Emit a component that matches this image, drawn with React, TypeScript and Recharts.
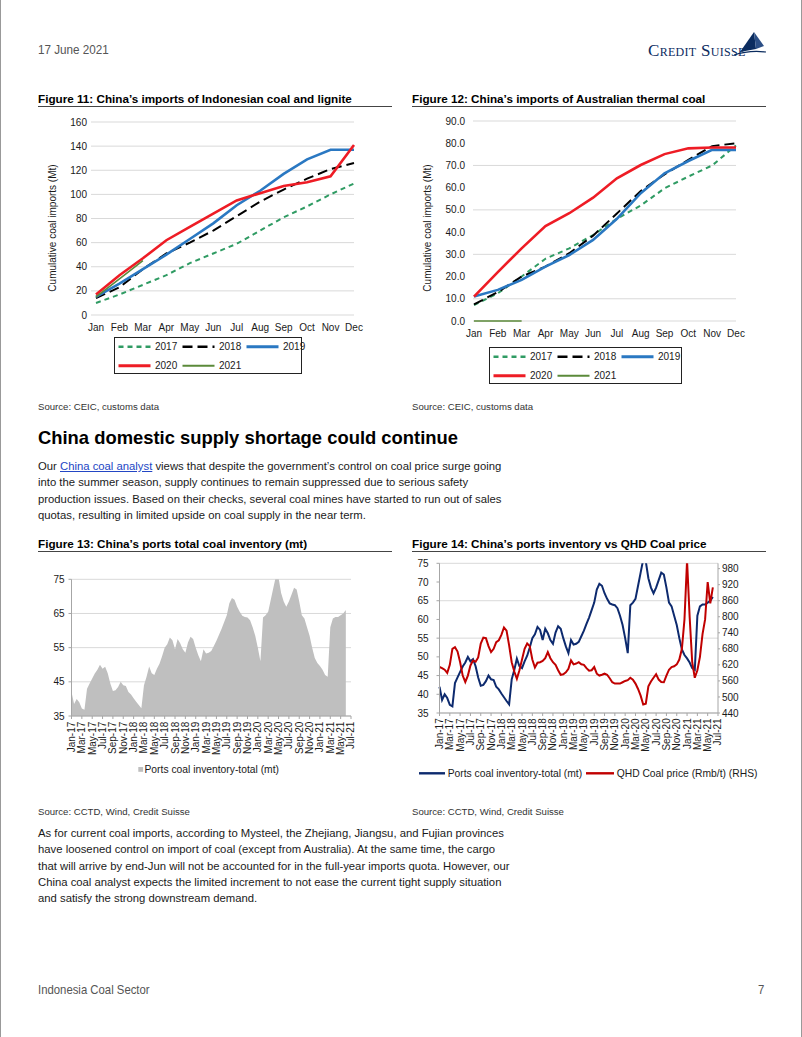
import React from "react";
import {
  LineChart,
  Line,
  AreaChart,
  Area,
  XAxis,
  YAxis,
  CartesianGrid,
} from "recharts";

const FONT = '"Liberation Sans", Arial, Helvetica, sans-serif';

// Figure 11 / 12 - cumulative imports (Mt) by month
const months = ["Jan", "Feb", "Mar", "Apr", "May", "Jun", "Jul", "Aug", "Sep", "Oct", "Nov", "Dec"];

const indo2017 = [10, 17, 25, 33, 43, 51, 59, 70, 81, 90, 100, 109];
const indo2018 = [14, 23, 38, 51, 60, 70, 82, 94, 104, 113, 121, 126];
const indo2019 = [15, 26, 38, 50, 63, 76, 91, 103, 117, 129, 137, 137];
const indo2020 = [17, 33, 47, 62, 73, 84, 95, 101, 107, 110, 115, 141];
const indo2021 = [15, 30, 45];
const indoTicks = [0, 20, 40, 60, 80, 100, 120, 140, 160];

const aus2017 = [7.2, 12.5, 20, 28, 32.7, 38.7, 46, 52, 59.7, 65, 70, 79];
const aus2018 = [7.5, 13, 20, 24.5, 30.5, 38.4, 48.4, 58.5, 66, 72.5, 78.7, 80];
const aus2019 = [11, 14, 18.5, 24.5, 29.7, 36.5, 46, 57.5, 66.5, 72, 77, 77];
const aus2020 = [11, 22, 32.7, 42.7, 48.5, 55.5, 64.2, 70.2, 75.1, 77.7, 78.1, 78.1];
const aus2021 = [0, 0, 0];
const ausTicks = [0, 10, 20, 30, 40, 50, 60, 70, 80, 90];

// Figure 13 / 14 - half-monthly readings from Jan-17 to Jun-21
const dateTicks = [
  "Jan-17", "Mar-17", "May-17", "Jul-17", "Sep-17", "Nov-17",
  "Jan-18", "Mar-18", "May-18", "Jul-18", "Sep-18", "Nov-18",
  "Jan-19", "Mar-19", "May-19", "Jul-19", "Sep-19", "Nov-19",
  "Jan-20", "Mar-20", "May-20", "Jul-20", "Sep-20", "Nov-20",
  "Jan-21", "Mar-21", "May-21", "Jul-21",
];

const portInventory = [
  42, 38.5, 40, 39, 37.2, 36.8, 43, 44.5, 46, 47.4, 48.5, 50,
  48.8, 49.4, 47.5, 44.5, 42.3, 42.5, 43.5, 45, 44, 43.8, 42, 41.3,
  40.2, 39.2, 38.2, 37.3, 44, 46.5, 49.5, 47.5, 47, 48.8, 50.3, 52.5,
  55, 56, 58, 57.2, 54.5, 57.5, 56.3, 54.5, 53.5, 56.5, 58.2, 57.5,
  55, 52.8, 51, 54.5, 53.3, 53.5, 54, 55.5, 57, 58.8, 60.5, 62.5,
  64.5, 68, 69.5, 69, 67, 65.5, 64.3, 64, 63.8, 63, 61, 58.5,
  55, 51, 63.8, 64.5, 65.5, 69, 72.5, 76, 75.5, 71, 68.5, 67,
  68.5, 70.5, 72.5, 72, 68.5, 64.5, 63.5, 61, 58.5, 55, 52, 50.5,
  49.6, 48.5, 47, 46.5, 61, 63.5, 64, 64, 64.5, 65, 66,
];

const qhdPrice = [
  612, 608, 602, 590, 620, 680, 686, 670, 630, 580, 556, 580,
  618, 636, 632, 648, 700, 722, 720, 690, 668, 680, 705, 712,
  732, 760, 748, 693, 630, 595, 568, 600, 640, 680, 700, 690,
  640, 610, 628, 630, 635, 645, 668, 645, 630, 620, 600, 583,
  585, 592, 605, 637, 622, 625, 630, 622, 620, 608, 598, 600,
  612, 587, 580, 583, 587, 583, 570, 555, 550, 550, 550, 555,
  560, 563, 572, 565, 550, 530, 505, 472, 475, 540, 558, 572,
  585, 565, 556, 555, 580, 602, 612, 615, 622, 640, 680, 790,
  1010, 800, 630, 572, 600, 650, 735, 790, 930, 850, 910,
];

const invTicks13 = [35, 45, 55, 65, 75];
const invTicks14 = [35, 40, 45, 50, 55, 60, 65, 70, 75];
const priceTicks = [440, 500, 560, 620, 680, 740, 800, 860, 920, 980];

const yearSeries = [
  { key: "y2017", label: "2017", color: "#2f9b63", width: 2, dash: "5 4" },
  { key: "y2018", label: "2018", color: "#000000", width: 2, dash: "10 5" },
  { key: "y2019", label: "2019", color: "#2a78c2", width: 2.6, dash: undefined },
  { key: "y2020", label: "2020", color: "#ee1c25", width: 2.6, dash: undefined },
  { key: "y2021", label: "2021", color: "#5b8a3a", width: 1.6, dash: undefined },
];

const INV_COLOR = "#0d2a6e";
const PRICE_COLOR = "#c00000";
const AREA_GREY = "#bfbfbf";

const indoData = months.map((m, i) => ({
  month: m,
  y2017: indo2017[i],
  y2018: indo2018[i],
  y2019: indo2019[i],
  y2020: indo2020[i],
  y2021: indo2021[i],
}));

const ausData = months.map((m, i) => ({
  month: m,
  y2017: aus2017[i],
  y2018: aus2018[i],
  y2019: aus2019[i],
  y2020: aus2020[i],
  y2021: aus2021[i],
}));

const inventoryData = portInventory.map((v, i) => ({
  t: i / 2,
  inv: v,
  price: qhdPrice[i],
}));

const xTickValues = dateTicks.map((_, i) => i * 2);

const tickStyle = { fontSize: 10, fill: "#1a1a1a", fontFamily: FONT };

const RotatedTick = (props: any) => {
  const { x, y, payload } = props;
  const label = dateTicks[Math.round(payload.value / 2)];
  return (
    <text
      x={x}
      y={y}
      transform={`rotate(-90 ${x} ${y})`}
      textAnchor="end"
      dy="0.35em"
      fontSize={10}
      fontFamily={FONT}
      fill="#1a1a1a"
    >
      {label}
    </text>
  );
};

const BoxLegend = ({ left, top, width }: { left: number; top: number; width: number }) => {
  const rows = [yearSeries.slice(0, 3), yearSeries.slice(3)];
  return (
    <svg
      style={{ position: "absolute", left, top, overflow: "visible" }}
      width={width}
      height={37}
    >
      <rect x={0.5} y={0.5} width={width - 1} height={36} fill="none" stroke="#222" />
      {rows.map((row, r) =>
        row.map((s, c) => {
          const cy = r === 0 ? 9.7 : 28.8;
          const x0 = 4.5 + c * 64;
          return (
            <g key={s.key}>
              <line
                x1={x0}
                x2={x0 + 32}
                y1={cy}
                y2={cy}
                stroke={s.color}
                strokeWidth={s.width + 0.4}
                strokeDasharray={s.dash}
              />
              <text x={x0 + 36.5} y={cy + 3.6} fontSize={10} fontFamily={FONT} fill="#1a1a1a">
                {s.label}
              </text>
            </g>
          );
        })
      )}
    </svg>
  );
};

const FigTitle = ({ left, top, text }: { left: number; top: number; text: string }) => (
  <>
    <div
      style={{
        position: "absolute",
        left,
        top,
        fontFamily: FONT,
        fontWeight: "bold",
        fontSize: 11.7,
        lineHeight: "14px",
        whiteSpace: "nowrap",
        color: "#000",
      }}
    >
      {text}
    </div>
    <div
      style={{
        position: "absolute",
        left,
        top: top + 14,
        width: 354,
        height: 1,
        background: "#444",
      }}
    />
  </>
);

const SmallText = ({ left, top, text }: { left: number; top: number; text: string }) => (
  <div
    style={{
      position: "absolute",
      left,
      top,
      fontFamily: FONT,
      fontSize: 9.6,
      lineHeight: "12px",
      whiteSpace: "nowrap",
      color: "#333",
    }}
  >
    {text}
  </div>
);

const NarrowText = ({ left, top, size, text }: { left: number; top: number; size: number; text: string }) => (
  <div
    style={{
      position: "absolute",
      left,
      top,
      fontFamily: FONT,
      fontSize: size,
      lineHeight: "16px",
      color: "#555",
      whiteSpace: "nowrap",
      transform: "scaleX(0.86)",
      transformOrigin: "left center",
    }}
  >
    {text}
  </div>
);

const AxisTitle = ({ cx, cy, text }: { cx: number; cy: number; text: string }) => (
  <div
    style={{
      position: "absolute",
      left: cx - 100,
      top: cy - 6,
      width: 200,
      height: 12,
      lineHeight: "12px",
      textAlign: "center",
      fontFamily: FONT,
      fontSize: 10,
      color: "#1a1a1a",
      transform: "rotate(-90deg)",
      whiteSpace: "nowrap",
    }}
  >
    {text}
  </div>
);

const para1 = [
  null,
  "into the summer season, supply continues to remain suppressed due to serious safety",
  "production issues. Based on their checks, several coal mines have started to run out of sales",
  "quotas, resulting in limited upside on coal supply in the near term.",
];

const para2 = [
  "As for current coal imports, according to Mysteel, the Zhejiang, Jiangsu, and Fujian provinces",
  "have loosened control on import of coal (except from Australia). At the same time, the cargo",
  "that will arrive by end-Jun will not be accounted for in the full-year imports quota. However, our",
  "China coal analyst expects the limited increment to not ease the current tight supply situation",
  "and satisfy the strong downstream demand.",
];

const bodyStyle: React.CSSProperties = {
  position: "absolute",
  left: 37,
  fontFamily: FONT,
  fontSize: 11.3,
  color: "#1a1a1a",
  whiteSpace: "nowrap",
};

export default function App() {
  return (
    <div
      style={{
        position: "relative",
        width: 802,
        height: 1037,
        background: "#fff",
        overflow: "hidden",
        boxSizing: "border-box",
        borderLeft: "1px solid #999",
        borderRight: "1px solid #999",
      }}
    >
      <style>{`body{margin:0;}`}</style>

      {/* header */}
      <NarrowText left={37} top={42} size={13.6} text="17 June 2021" />
      <div
        style={{
          position: "absolute",
          left: 647,
          top: 42,
          fontFamily: '"Liberation Serif", "DejaVu Serif", serif',
          fontVariant: "small-caps",
          fontSize: 17,
          lineHeight: "18px",
          letterSpacing: 0.3,
          color: "#0b2c5f",
          whiteSpace: "nowrap",
        }}
      >
        Credit Suisse
      </div>
      <svg style={{ position: "absolute", left: 730, top: 29 }} width={36} height={30}>
        <polygon points="9,23 23,3 25,20" fill="#0b2c5f" />
        <polygon points="23,3 33,17 25,20" fill="#2c4f86" />
        <path d="M3 26 Q 18 21 35 23" stroke="#0b2c5f" fill="none" strokeWidth={1.2} />
      </svg>

      {/* Figure 11 */}
      <FigTitle left={37} top={92} text="Figure 11: China’s imports of Indonesian coal and lignite" />
      <AxisTitle cx={52} cy={228} text="Cumulative coal imports (Mt)" />
      <div style={{ position: "absolute", left: 37, top: 110 }}>
        <LineChart
          width={326}
          height={225}
          data={indoData}
          margin={{ top: 12, right: 10, bottom: 0, left: 0 }}
        >
          <CartesianGrid vertical={false} stroke="#d9d9d9" />
          <XAxis
            dataKey="month"
            axisLine={false}
            tickLine={false}
            tickSize={0}
            tickMargin={9}
            padding={{ left: 5, right: 0 }}
            interval={0}
            height={20}
            tick={tickStyle}
          />
          <YAxis
            domain={[0, 160]}
            ticks={indoTicks}
            axisLine={false}
            tickLine={false}
            tickSize={0}
            tickMargin={4}
            width={53}
            tick={tickStyle}
          />
          {yearSeries.map((s) => (
            <Line
              key={s.key}
              dataKey={s.key}
              type="linear"
              stroke={s.color}
              strokeWidth={s.width}
              strokeDasharray={s.dash}
              dot={false}
              isAnimationActive={false}
            />
          ))}
        </LineChart>
      </div>
      <BoxLegend left={112.7} top={337.3} width={188} />
      <SmallText left={37} top={401} text="Source: CEIC, customs data" />

      {/* Figure 12 */}
      <FigTitle left={411} top={92} text="Figure 12: China’s imports of Australian thermal coal" />
      <AxisTitle cx={427} cy={228} text="Cumulative coal imports (Mt)" />
      <div style={{ position: "absolute", left: 411, top: 110 }}>
        <LineChart
          width={334}
          height={236}
          data={ausData}
          margin={{ top: 11, right: 10, bottom: 0, left: 0 }}
        >
          <CartesianGrid vertical={false} stroke="#d9d9d9" />
          <XAxis
            dataKey="month"
            axisLine={false}
            tickLine={false}
            tickSize={0}
            tickMargin={8.5}
            padding={{ left: 1, right: 0 }}
            interval={0}
            height={25}
            tick={tickStyle}
          />
          <YAxis
            domain={[0, 90]}
            ticks={ausTicks}
            axisLine={false}
            tickLine={false}
            tickSize={0}
            tickMargin={8}
            width={61}
            tick={tickStyle}
            tickFormatter={(v: number) => v.toFixed(1)}
          />
          {yearSeries.map((s) => (
            <Line
              key={s.key}
              dataKey={s.key}
              type="linear"
              stroke={s.color}
              strokeWidth={s.width}
              strokeDasharray={s.dash}
              dot={false}
              isAnimationActive={false}
            />
          ))}
        </LineChart>
      </div>
      <BoxLegend left={488.3} top={346.7} width={193} />
      <SmallText left={411} top={401} text="Source: CEIC, customs data" />

      {/* section text */}
      <div
        style={{
          position: "absolute",
          left: 37,
          top: 427,
          fontFamily: FONT,
          fontWeight: "bold",
          fontSize: 18.4,
          lineHeight: "22px",
          color: "#000",
          whiteSpace: "nowrap",
        }}
      >
        China domestic supply shortage could continue
      </div>
      {para1.map((line, i) => (
        <div key={i} style={{ ...bodyStyle, top: 458 + i * 16.4, lineHeight: "16px" }}>
          {line === null ? (
            <>
              Our{" "}
              <span style={{ color: "#2346c4", textDecoration: "underline" }}>
                China coal analyst
              </span>{" "}
              views that despite the government’s control on coal price surge going
            </>
          ) : (
            line
          )}
        </div>
      ))}

      {/* Figure 13 */}
      <FigTitle left={37} top={537} text="Figure 13: China’s ports total coal inventory (mt)" />
      <div style={{ position: "absolute", left: 30, top: 570 }}>
        <AreaChart
          width={330}
          height={191}
          data={inventoryData}
          margin={{ top: 9.3, right: 10, bottom: 0, left: 0 }}
        >
          <CartesianGrid vertical={false} stroke="#d9d9d9" />
          <XAxis
            type="number"
            dataKey="t"
            domain={[0, 54]}
            ticks={xTickValues}
            interval={0}
            height={45}
            tickSize={3}
            tickMargin={2.7}
            axisLine={{ stroke: "#a6a6a6" }}
            tickLine={{ stroke: "#a6a6a6" }}
            tick={<RotatedTick />}
          />
          <YAxis
            domain={[35, 75]}
            ticks={invTicks13}
            allowDataOverflow
            width={40.5}
            tickSize={3}
            tickMargin={4}
            axisLine={{ stroke: "#a6a6a6" }}
            tickLine={{ stroke: "#a6a6a6" }}
            tick={tickStyle}
          />
          <Area
            dataKey="inv"
            type="linear"
            stroke="none"
            fill={AREA_GREY}
            fillOpacity={1}
            isAnimationActive={false}
          />
        </AreaChart>
      </div>
      <svg style={{ position: "absolute", left: 130, top: 762 }} width={170} height={16}>
        <rect x={7.3} y={5} width={4.8} height={4.8} fill={AREA_GREY} />
        <text x={13.5} y={11} fontSize={10.3} fontFamily={FONT} fill="#1a1a1a">
          Ports coal inventory-total (mt)
        </text>
      </svg>
      <SmallText left={37} top={806} text="Source: CCTD, Wind, Credit Suisse" />

      {/* Figure 14 */}
      <FigTitle left={411} top={537} text="Figure 14: China’s ports inventory vs QHD Coal price" />
      <div style={{ position: "absolute", left: 405, top: 555 }}>
        <LineChart
          width={357}
          height={203}
          data={inventoryData}
          margin={{ top: 8.3, right: 5, bottom: 0, left: 0 }}
        >
          <CartesianGrid vertical={false} yAxisId="left" stroke="#d9d9d9" />
          <XAxis
            type="number"
            dataKey="t"
            domain={[0, 54]}
            ticks={xTickValues}
            interval={0}
            height={45}
            tickSize={3}
            tickMargin={2.3}
            axisLine={{ stroke: "#a6a6a6" }}
            tickLine={{ stroke: "#a6a6a6" }}
            tick={<RotatedTick />}
          />
          <YAxis
            yAxisId="left"
            domain={[35, 75]}
            ticks={invTicks14}
            allowDataOverflow
            width={33.5}
            tickSize={3}
            tickMargin={8}
            axisLine={{ stroke: "#a6a6a6" }}
            tickLine={{ stroke: "#a6a6a6" }}
            tick={tickStyle}
          />
          <YAxis
            yAxisId="right"
            orientation="right"
            domain={[440, 1000]}
            ticks={priceTicks}
            allowDataOverflow
            width={40}
            tickSize={2}
            tickMargin={2}
            axisLine={{ stroke: "#a6a6a6" }}
            tickLine={{ stroke: "#a6a6a6" }}
            tick={tickStyle}
          />
          <Line
            yAxisId="left"
            dataKey="inv"
            type="linear"
            stroke={INV_COLOR}
            strokeWidth={2}
            dot={false}
            isAnimationActive={false}
          />
          <Line
            yAxisId="right"
            dataKey="price"
            type="linear"
            stroke={PRICE_COLOR}
            strokeWidth={2}
            dot={false}
            isAnimationActive={false}
          />
        </LineChart>
      </div>
      <svg style={{ position: "absolute", left: 410, top: 765 }} width={360} height={16}>
        <line x1={8} x2={34} y1={8.3} y2={8.3} stroke={INV_COLOR} strokeWidth={2.4} />
        <text x={36.7} y={12} fontSize={10.3} fontFamily={FONT} fill="#1a1a1a">
          Ports coal inventory-total (mt)
        </text>
        <line x1={175} x2={203} y1={8.3} y2={8.3} stroke={PRICE_COLOR} strokeWidth={2.4} />
        <text x={205.7} y={12} fontSize={10.3} fontFamily={FONT} fill="#1a1a1a">
          QHD Coal price (Rmb/t) (RHS)
        </text>
      </svg>
      <SmallText left={411} top={806} text="Source: CCTD, Wind, Credit Suisse" />

      {para2.map((line, i) => (
        <div key={i} style={{ ...bodyStyle, top: 825 + i * 16.25, lineHeight: "16px" }}>
          {line}
        </div>
      ))}

      {/* footer */}
      <NarrowText left={37} top={982} size={13.2} text="Indonesia Coal Sector" />
      <NarrowText left={757} top={982} size={13.2} text="7" />
    </div>
  );
}
